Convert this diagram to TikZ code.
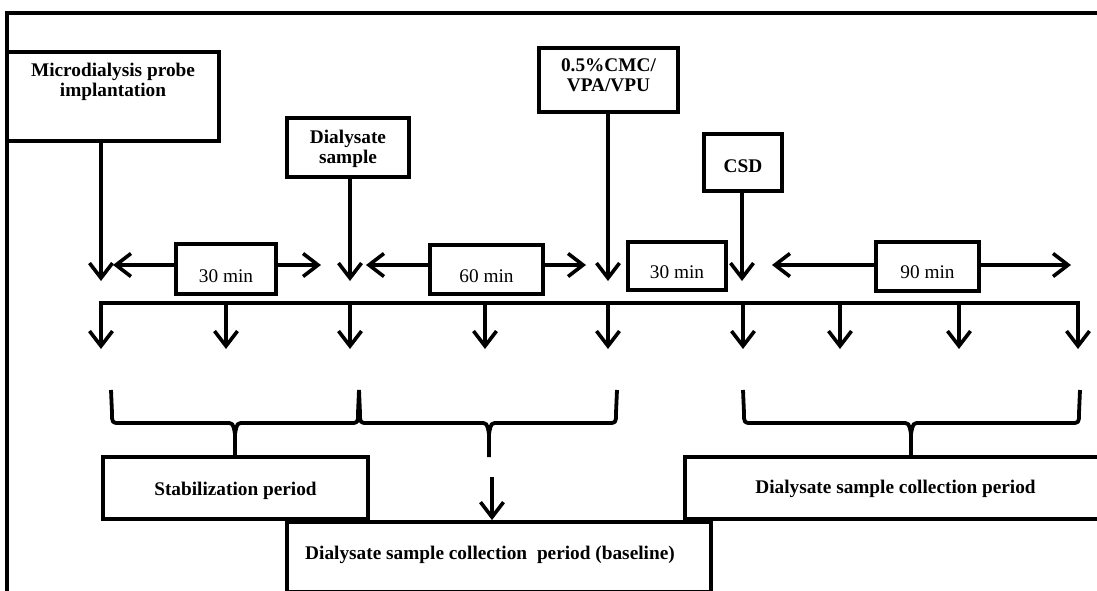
\documentclass[tikz,border=0pt]{standalone}
\usepackage{fontspec}
\setmainfont{Liberation Serif}
\usetikzlibrary{arrows.meta}
\newcommand\bxt[4]{\parbox[c][#2pt][t]{#1pt}{\centering\rule{0pt}{#3pt}#4}}
\newcommand\mybrace[4]{%
  \draw[ln,line join=round] (#1,390) -- (#1+1,413) .. controls (#1+1,423) .. (#1+9,423) -- (#2-9,423) .. controls (#2-2,423) .. (#2,434) -- (#2,#4);
  \draw[ln,line join=round] (#3,390) -- (#3-1,413) .. controls (#3-1,423) .. (#3-9,423) -- (#2+9,423) .. controls (#2+2,423) .. (#2,434);}
\begin{document}
\begin{tikzpicture}[x=1pt,y=-1pt,
  ln/.style={line width=3.8pt},
  arr/.style={line width=3.6pt,-{Straight Barb[length=15pt,width=23pt]}},
  box/.style={draw,line width=3.8pt,inner sep=0pt,font=\fontsize{19.3}{20}\selectfont\bfseries},
  tbox/.style={draw,line width=3.8pt,inner sep=0pt,font=\fontsize{19.3}{20}\selectfont}]
\useasboundingbox (0,0) rectangle (1097,591);
% frame
\draw[ln] (7,600) -- (7,13) -- (1105,13);
% top boxes
\node[box] (probe) at (113,96.5) {\bxt{212}{89}{25}{Microdialysis probe\\implantation}};
\node[box] (dial) at (348,147.5) {\bxt{122}{59}{25}{Dialysate\\sample}};
\node[box] (cmc) at (608.5,80) {\bxt{139}{64}{24}{0.5\%CMC/\\VPA/VPU}};
\node[box] (csd) at (743,162.5) {\bxt{78}{57}{38}{CSD}};
% time boxes
\node[tbox] (m1) at (226,269) {\bxt{100}{50}{38}{30 min}};
\node[tbox] (m2) at (486.5,269.5) {\bxt{113}{49}{37}{60 min}};
\node[tbox] (m3) at (677,266) {\bxt{98}{48}{36}{30 min}};
\node[tbox] (m4) at (927.5,266.5) {\bxt{103}{49}{36}{90 min}};
% bottom boxes
\node[box] (stab) at (235.5,488) {\bxt{265}{62}{38}{Stabilization period}};
\node[box] (coll) at (895.5,488) {\bxt{421}{62}{36}{Dialysate sample collection period}};
\node[box] (base) at (499,557) {\bxt{424}{70}{37}{Dialysate sample collection\hspace{5pt} period (baseline)\hspace*{18pt}}};
% event arrows
\coordinate (a1) at (101,281);
\coordinate (a2) at (350,281);
\coordinate (a3) at (608,281);
\coordinate (a4) at (742,281);
\draw[arr] (probe.south -| a1) -- (a1);
\draw[arr] (dial.south -| a2) -- (a2);
\draw[arr] (cmc.south -| a3) -- (a3);
\draw[arr] (csd.south -| a4) -- (a4);
% interval arrows
\coordinate (l1) at (113,265); \coordinate (r1) at (321,265);
\coordinate (l2) at (366,265); \coordinate (r2) at (586,265);
\coordinate (l4) at (772,265); \coordinate (r4) at (1071,265);
\draw[arr] (m1.west |- l1) -- (l1);
\draw[arr] (m1.east |- r1) -- (r1);
\draw[arr] (m2.west |- l2) -- (l2);
\draw[arr] (m2.east |- r2) -- (r2);
\draw[arr] (m4.west |- l4) -- (l4);
\draw[arr] (m4.east |- r4) -- (r4);
% sampling bus
\foreach \x [count=\i] in {101,226,350,485,608,743,840,959,1078} {
  \coordinate (b\i) at (\x,303);
  \coordinate (d\i) at (\x,349);
  \draw[arr] (b\i) -- (d\i);
}
\draw[ln,line cap=rect] (b1) -- (b9);
% braces
\mybrace{111}{235}{359}{457}
\mybrace{359}{489}{617}{457}
\mybrace{743}{911}{1080}{457}
\coordinate (bb) at (492,477);
\draw[arr] (bb) -- (base.north -| bb);
\end{tikzpicture}
\end{document}
